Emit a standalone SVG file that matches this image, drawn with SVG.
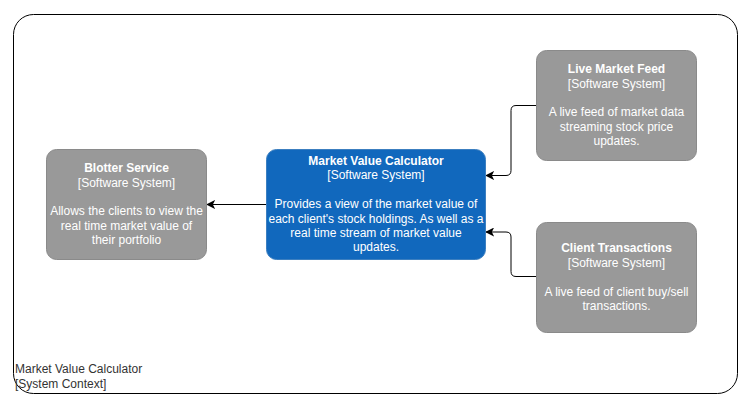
<svg xmlns="http://www.w3.org/2000/svg" width="750" height="414" viewBox="0 0 750 414">
<defs>
<style>
text{font-family:"Liberation Sans",Arial,sans-serif;font-size:12px;}
.node text{fill:#ffffff;text-anchor:middle;}
.t{font-weight:bold;}
.ext{fill:#999999;stroke:#8A8A8A;stroke-width:1;}
.sys{fill:#1168BD;stroke:#3C7FC0;stroke-width:1;}
.edge{fill:none;stroke:#000000;stroke-width:1;marker-end:url(#arr);}
.lbl{fill:#333333;}
</style>
<marker id="arr" viewBox="0 0 10 10" refX="9" refY="5" markerWidth="9" markerHeight="9" markerUnits="userSpaceOnUse" orient="auto">
<path d="M0,0 L10,5 L0,10 L2.5,5 Z" fill="#000000"/>
</marker>
</defs>
<rect width="750" height="414" fill="#ffffff"/>
<g id="boundary">
<rect x="13.5" y="14.5" width="724" height="379" rx="20" ry="20" fill="none" stroke="#000000" stroke-width="1"/>
<text class="lbl" x="15" y="373">Market Value Calculator</text>
<text class="lbl" x="15" y="387.5">[System Context]</text>
</g>
<g id="connectors">
<path class="edge" d="M266,204.5 L207,204.5"/>
<path class="edge" d="M536.5,105.5 L516,105.5 Q511,105.5 511,110.5 L511,170.5 Q511,175.5 506,175.5 L486,175.5"/>
<path class="edge" d="M536.5,276.5 L516,276.5 Q511,276.5 511,271.5 L511,237 Q511,232 506,232 L486,232"/>
</g>
<g id="blotter" class="node">
<rect class="ext" x="46.5" y="149.5" width="160" height="110" rx="10" ry="10"/>
<text class="t" x="126.5" y="172.2">Blotter Service</text>
<text x="126.5" y="186.6">[Software System]</text>
<text x="126.5" y="215.4">Allows the clients to view the</text>
<text x="126.5" y="229.8">real time market value of</text>
<text x="126.5" y="244.2">their portfolio</text>
</g>
<g id="mvc" class="node">
<rect class="sys" x="266.5" y="149.5" width="219" height="110" rx="10" ry="10"/>
<text class="t" x="376" y="164.9">Market Value Calculator</text>
<text x="376" y="179.3">[Software System]</text>
<text x="376" y="208.1">Provides a view of the market value of</text>
<text x="376" y="222.5">each client's stock holdings. As well as a</text>
<text x="376" y="236.9">real time stream of market value</text>
<text x="376" y="251.3">updates.</text>
</g>
<g id="livefeed" class="node">
<rect class="ext" x="536.5" y="50.5" width="160" height="110" rx="10" ry="10"/>
<text class="t" x="616.5" y="73.2">Live Market Feed</text>
<text x="616.5" y="87.6">[Software System]</text>
<text x="616.5" y="116.4">A live feed of market data</text>
<text x="616.5" y="130.8">streaming stock price</text>
<text x="616.5" y="145.2">updates.</text>
</g>
<g id="clienttx" class="node">
<rect class="ext" x="536.5" y="222.5" width="160" height="110" rx="10" ry="10"/>
<text class="t" x="616.5" y="252.4">Client Transactions</text>
<text x="616.5" y="266.8">[Software System]</text>
<text x="616.5" y="295.6">A live feed of client buy/sell</text>
<text x="616.5" y="310">transactions.</text>
</g>
</svg>
